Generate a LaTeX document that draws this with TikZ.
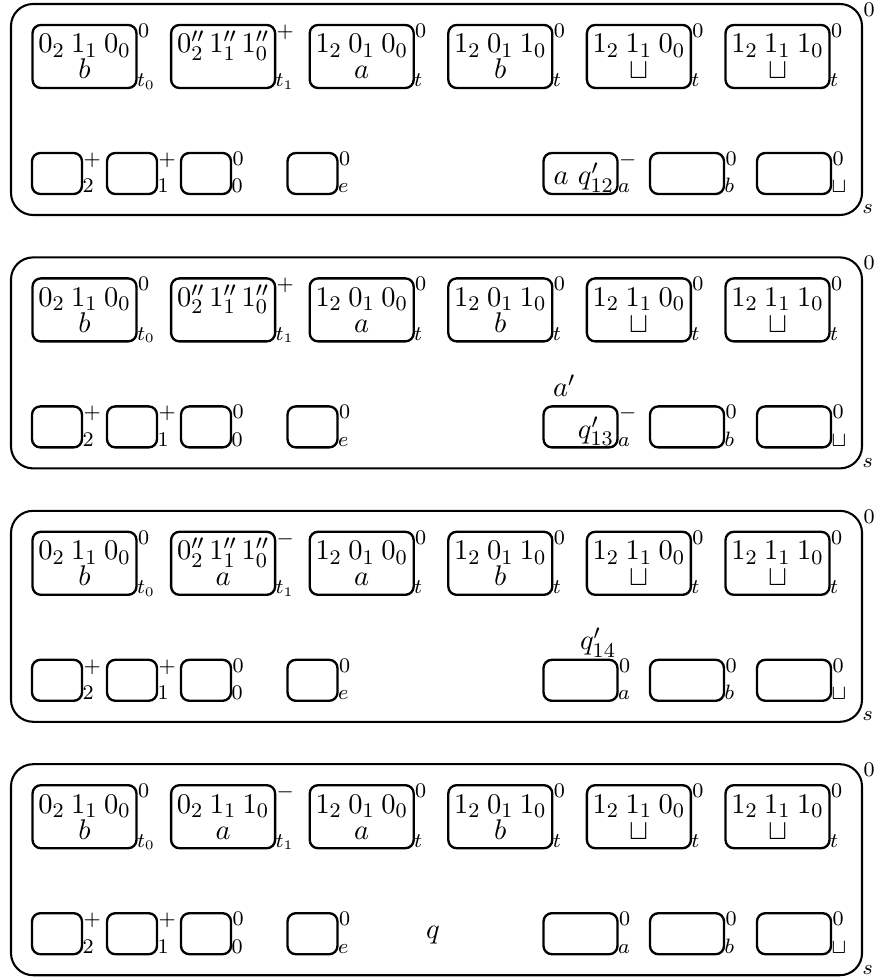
\documentclass[tikz,border=0pt]{standalone}
\newcommand\pxu{0.3846pt}
\tikzset{
  ibox/.style={draw, line width=0.9pt, rounded corners=3.2pt, inner sep=0pt, outer sep=0pt},
  panel/.style={draw, line width=0.8pt, rounded corners=8.5pt, inner sep=0pt, outer sep=0pt},
  lbl/.style={inner sep=0pt, outer sep=0pt, font=\fontsize{11}{13}\selectfont},
  txt/.style={inner sep=0pt, outer sep=0pt, font=\fontsize{11}{13}\selectfont},
}
% #1 name, #2 cx, #3 cy, #4 w, #5 h, #6 sup, #7 sub, #8 style
\newcommand\membx[8]{%
  \node[#8, minimum width={#4*\pxu}, minimum height={#5*\pxu}] (#1) at (#2,#3) {};
  \node[lbl, anchor=base west] (#1-sup) at ([xshift={1.5*\pxu}, yshift={-12.5*\pxu}]#1.north east) {$\scriptstyle #6$};
  \node[lbl, anchor=base west] (#1-sub) at ([xshift={0.5*\pxu}, yshift={1*\pxu}]#1.south east) {$\scriptstyle #7$};
}
% common parts of a panel: #1 prefix, #2 top
\newcommand\commonparts[2]{%
  \membx{#1S}{436.5}{#2+106.5}{851}{211}{0}{s}{panel}
  \membx{#1t0}{84.5}{#2+53.5}{104}{63}{0}{t_0}{ibox}
  \node[txt, anchor=base] (#1t0l1) at (84.5,#2+50) {$0_2\:1_1\:0_0$};
  \node[txt, anchor=base] (#1t0l2) at (84.5,#2+76) {$b$};
  \membx{#1t2}{361.7}{#2+53.5}{104}{63}{0}{t}{ibox}
  \node[txt, anchor=base] (#1t2l1) at (361.7,#2+50) {$1_2\:0_1\:0_0$};
  \node[txt, anchor=base] (#1t2l2) at (361.7,#2+76) {$a$};
  \membx{#1t3}{500.3}{#2+53.5}{104}{63}{0}{t}{ibox}
  \node[txt, anchor=base] (#1t3l1) at (500.3,#2+50) {$1_2\:0_1\:1_0$};
  \node[txt, anchor=base] (#1t3l2) at (500.3,#2+76) {$b$};
  \membx{#1t4}{638.9}{#2+53.5}{104}{63}{0}{t}{ibox}
  \node[txt, anchor=base] (#1t4l1) at (638.9,#2+50) {$1_2\:1_1\:0_0$};
  \node[txt, anchor=base] (#1t4l2) at (638.9,#2+76) {$\sqcup$};
  \membx{#1t5}{777.5}{#2+53.5}{104}{63}{0}{t}{ibox}
  \node[txt, anchor=base] (#1t5l1) at (777.5,#2+50) {$1_2\:1_1\:1_0$};
  \node[txt, anchor=base] (#1t5l2) at (777.5,#2+76) {$\sqcup$};
  \membx{#1m2}{57}{#2+170.5}{50}{41}{+}{2}{ibox}
  \membx{#1m1}{132}{#2+170.5}{50}{41}{+}{1}{ibox}
  \membx{#1m0}{206}{#2+170.5}{50}{41}{0}{0}{ibox}
  \membx{#1me}{312.5}{#2+170.5}{50}{41}{0}{e}{ibox}
  \membx{#1mb}{687}{#2+170.5}{74}{41}{0}{b}{ibox}
  \membx{#1mu}{794}{#2+170.5}{74}{41}{0}{\sqcup}{ibox}
}
\begin{document}
\begin{tikzpicture}[x=0.3846pt, y=-0.3846pt]
\useasboundingbox (0,0) rectangle (876,979);
% panel 1
\commonparts{A}{3}
\membx{At1}{223.1}{3+53.5}{104}{63}{+}{t_1}{ibox}
\node[txt, anchor=base] (At1l1) at (223.1,3+50) {$0''_2\,1''_1\,1''_0$};
\membx{Ama}{580.5}{3+170.5}{74}{41}{-}{a}{ibox}
\node[txt, anchor=base east] (Amal) at (614,3+182) {$a\ q'_{12}$};
% panel 2
\commonparts{B}{256.4}
\membx{Bt1}{223.1}{256.4+53.5}{104}{63}{+}{t_1}{ibox}
\node[txt, anchor=base] (Bt1l1) at (223.1,256.4+50) {$0''_2\,1''_1\,1''_0$};
\membx{Bma}{580.5}{256.4+170.5}{74}{41}{-}{a}{ibox}
\node[txt, anchor=base east] (Bmal) at (614,256.4+182) {$q'_{13}$};
\node[txt, anchor=base west] (Bap) at (553,256.4+140) {$a'$};
% panel 3
\commonparts{C}{509.8}
\membx{Ct1}{223.1}{509.8+53.5}{104}{63}{-}{t_1}{ibox}
\node[txt, anchor=base] (Ct1l1) at (223.1,509.8+50) {$0''_2\,1''_1\,1''_0$};
\node[txt, anchor=base] (Ct1l2) at (223.1,509.8+76) {$a$};
\membx{Cma}{580.5}{509.8+170.5}{74}{41}{0}{a}{ibox}
\node[txt, anchor=base west] (Cq) at (580,509.8+140) {$q'_{14}$};
% panel 4
\commonparts{D}{763.2}
\membx{Dt1}{223.1}{763.2+53.5}{104}{63}{-}{t_1}{ibox}
\node[txt, anchor=base] (Dt1l1) at (223.1,763.2+50) {$0_2\:1_1\:1_0$};
\node[txt, anchor=base] (Dt1l2) at (223.1,763.2+76) {$a$};
\membx{Dma}{580.5}{763.2+170.5}{74}{41}{0}{a}{ibox}
\node[txt, anchor=base] (Dq) at (433,763.2+175) {$q$};
\end{tikzpicture}
\end{document}
